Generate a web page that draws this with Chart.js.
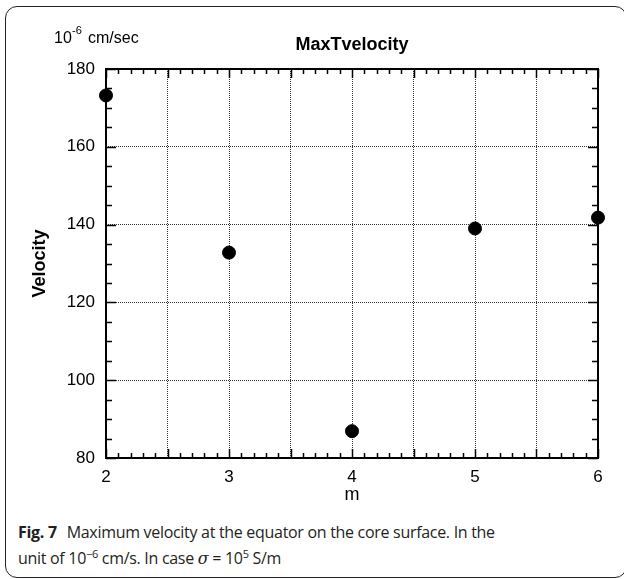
<!DOCTYPE html>
<html lang="en">
<head>
<meta charset="UTF-8" />
<title>MaxTvelocity</title>
<script src="https://cdn.jsdelivr.net/npm/chart.js@4/dist/chart.umd.min.js"></script>
<style>
  body { margin: 0; background: #fff; }
  #wrap { position: relative; width: 624px; height: 579px; overflow: hidden; }
  #frame { position: absolute; left: 5px; top: 6px; width: 620px; height: 570px;
           border: 1px solid #222; border-radius: 12px; }
  #chart { position: absolute; left: 0; top: 0; }
  #caption { position: absolute; left: 18px; top: 519px; width: 600px;
             font-family: "Open Sans", sans-serif; font-size: 16px; line-height: 26px;
             color: #231f20; letter-spacing: -0.3px; }
  #caption b { font-weight: 700; margin-right: 6px; }
  #caption sup { font-size: 11px; line-height: 0; }
  #caption i { font-family: "DejaVu Serif", serif; }
</style>
</head>
<body>
<div id="wrap">
  <div id="frame"></div>
  <canvas id="chart" width="624" height="510"></canvas>
  <div id="caption"><b>Fig. 7</b> Maximum velocity at the equator on the core surface. In the<br>unit of 10<sup>−6</sup> cm/s. In case <i>σ</i> = 10<sup>5</sup> S/m</div>
</div>
<script>

const mValues = [2, 3, 4, 5, 6];
const velocity = [173.2, 132.8, 86.9, 139.0, 141.8];

const xTicks = [2, 3, 4, 5, 6];
const yTicks = [80, 100, 120, 140, 160, 180];

const font = '"Liberation Sans", Arial, sans-serif';

// frame, inward minor ticks and the text around the plot
const decor = {
  id: 'decor',
  beforeDatasetsDraw(chart) {
    const { ctx, chartArea: a, scales: { x, y } } = chart;
    ctx.save();
    ctx.strokeStyle = '#000';
    ctx.lineWidth = 1.5;
    ctx.beginPath();
    for (let v = 2; v <= 6.001; v += 0.1) {
      const px = Math.round(x.getPixelForValue(v)) + 0.5;
      const major = Math.abs(v * 2 - Math.round(v * 2)) < 1e-6;
      const len = major ? 9 : 5;
      ctx.moveTo(px, a.bottom); ctx.lineTo(px, a.bottom - len);
      ctx.moveTo(px, a.top); ctx.lineTo(px, a.top + len);
    }
    for (let v = 80; v <= 180; v += 5) {
      const py = Math.round(y.getPixelForValue(v)) + 0.5;
      const len = v % 20 === 0 ? 10 : 6;
      ctx.moveTo(a.left, py); ctx.lineTo(a.left + len, py);
      ctx.moveTo(a.right, py); ctx.lineTo(a.right - len, py);
    }
    ctx.stroke();
    ctx.lineWidth = 2;
    ctx.strokeRect(a.left, a.top, a.right - a.left, a.bottom - a.top);

    ctx.fillStyle = '#000';
    ctx.textAlign = 'center';
    ctx.textBaseline = 'middle';
    ctx.font = 'bold 18px ' + font;
    ctx.fillText('MaxTvelocity', (a.left + a.right) / 2, 45);
    ctx.font = '18px ' + font;
    ctx.fillText('m', (a.left + a.right) / 2, 495);
    ctx.save();
    ctx.translate(40, (a.top + a.bottom) / 2);
    ctx.rotate(-Math.PI / 2);
    ctx.font = 'bold 18px ' + font;
    ctx.fillText('Velocity', 0, 0);
    ctx.restore();
    ctx.textAlign = 'left';
    ctx.font = '16px ' + font;
    ctx.fillText('10', 54, 39);
    ctx.font = '11px ' + font;
    ctx.fillText('-6', 72, 31);
    ctx.font = '16px ' + font;
    ctx.fillText('cm/sec', 88, 39);
    ctx.restore();
  }
};

new Chart(document.getElementById('chart'), {
  type: 'scatter',
  data: {
    datasets: [{
      data: mValues.map((m, i) => ({ x: m, y: velocity[i] })),
      backgroundColor: '#000',
      borderColor: '#000',
      pointRadius: 6.5,
      clip: false
    }]
  },
  options: {
    responsive: false,
    animation: false,
    layout: { padding: { left: 0, top: 69, right: 26, bottom: 0 } },
    plugins: { legend: { display: false }, tooltip: { enabled: false } },
    scales: {
      x: {
        type: 'linear', min: 2, max: 6,
        afterFit: s => { s.height = 52; },
        afterBuildTicks: s => { s.ticks = [2, 2.5, 3, 3.5, 4, 4.5, 5, 5.5, 6].map(v => ({ value: v })); },
        ticks: {
          padding: 9, color: '#000', font: { family: font, size: 17 },
          maxRotation: 0,
          callback: v => xTicks.includes(v) ? String(v) : ''
        },
        grid: { color: '#333', lineWidth: 1, drawTicks: false },
        border: { display: false, dash: [1, 1] }
      },
      y: {
        min: 80, max: 180,
        afterFit: s => { s.width = 106; },
        afterBuildTicks: s => { s.ticks = yTicks.map(v => ({ value: v })); },
        ticks: { padding: 11, color: '#000', font: { family: font, size: 17 } },
        grid: { color: '#333', lineWidth: 1, drawTicks: false },
        border: { display: false, dash: [1, 1] }
      }
    }
  },
  plugins: [decor]
});
</script>
</body>
</html>
